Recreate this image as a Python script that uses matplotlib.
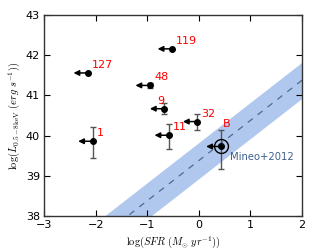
import numpy as np
import matplotlib
matplotlib.use('Agg')
import matplotlib.pyplot as plt

plt.rcParams['mathtext.fontset'] = 'cm'

# sources: log SFR (upper limits), log Lx and y errors
names = ['127', '119', '48', '9', '32', '11', '1', 'B']
log_sfr = [-2.15, -0.52, -0.95, -0.67, -0.03, -0.58, -2.06, 0.42]
log_lx = [41.56, 42.16, 41.25, 40.67, 40.35, 40.01, 39.86, 39.73]
err_up = [0.0, 0.0, 0.06, 0.14, 0.19, 0.29, 0.36, 0.40]
err_lo = [0.0, 0.0, 0.06, 0.14, 0.20, 0.35, 0.42, 0.56]
arrow_len = 0.28

# Mineo+2012 relation: log Lx = a + log SFR, scatter +/- s
mineo_a = 39.38
mineo_s = 0.45

# label offsets that differ from the default one
label_off = {'9': (-0.13, 0.2), 'B': (0.05, 0.56)}

fig = plt.figure(figsize=(3.15, 2.52), dpi=100)
ax = fig.add_axes([0.14, 0.143, 0.819, 0.797])

xx = np.array([-3.0, 2.0])
ax.fill_between(xx, mineo_a + xx - mineo_s, mineo_a + xx + mineo_s,
                color='#6f9be0', alpha=0.55, lw=0, zorder=1)
ax.plot(xx, mineo_a + xx, ls=(0, (5, 5)), color='#4f6a8f', lw=0.9, zorder=2)
ax.text(0.6, 39.47, 'Mineo+2012', color='#3e5f8f', fontsize=7.2, va='center')

for i in range(len(names)):
    x, y = log_sfr[i], log_lx[i]
    if err_up[i] > 0:
        ax.errorbar(x, y, yerr=[[err_lo[i]], [err_up[i]]], fmt='none',
                    ecolor='#555555', elinewidth=1, capsize=2.5, capthick=1, zorder=3)
    ax.annotate('', xy=(x - arrow_len, y), xytext=(x, y),
                arrowprops=dict(arrowstyle='-|>', color='k', lw=1.1,
                                mutation_scale=8, shrinkA=0, shrinkB=0), zorder=4)
    ax.plot(x, y, 'o', color='k', ms=4, zorder=5)
    dx, dy = label_off.get(names[i], (0.08, 0.2))
    ax.text(x + dx, y + dy, names[i], color='red', fontsize=8, va='center')

# B gets an open circle around it
ax.plot(log_sfr[-1], log_lx[-1], 'o', mfc='none', mec='k', ms=10, mew=1, zorder=5)

ax.set_xlim(-3, 2)
ax.set_ylim(38, 43)
ax.set_xticks([-3, -2, -1, 0, 1, 2])
ax.set_yticks([38, 39, 40, 41, 42, 43])
ax.tick_params(direction='in', top=True, right=True, labelsize=8, length=4,
               width=0.8, pad=3)
for s in ax.spines.values():
    s.set_linewidth(1.0)
    s.set_color('0.2')

ax.set_xlabel(r'$\log(SFR\ (M_{\odot}\ yr^{-1}))$', fontsize=7.5, labelpad=3)
ax.set_ylabel(r'$\log(L_{\mathrm{0.5-8keV}}\ (erg\ s^{-1}))$', fontsize=7.5, labelpad=3)

fig.savefig('out.png', dpi=100)
